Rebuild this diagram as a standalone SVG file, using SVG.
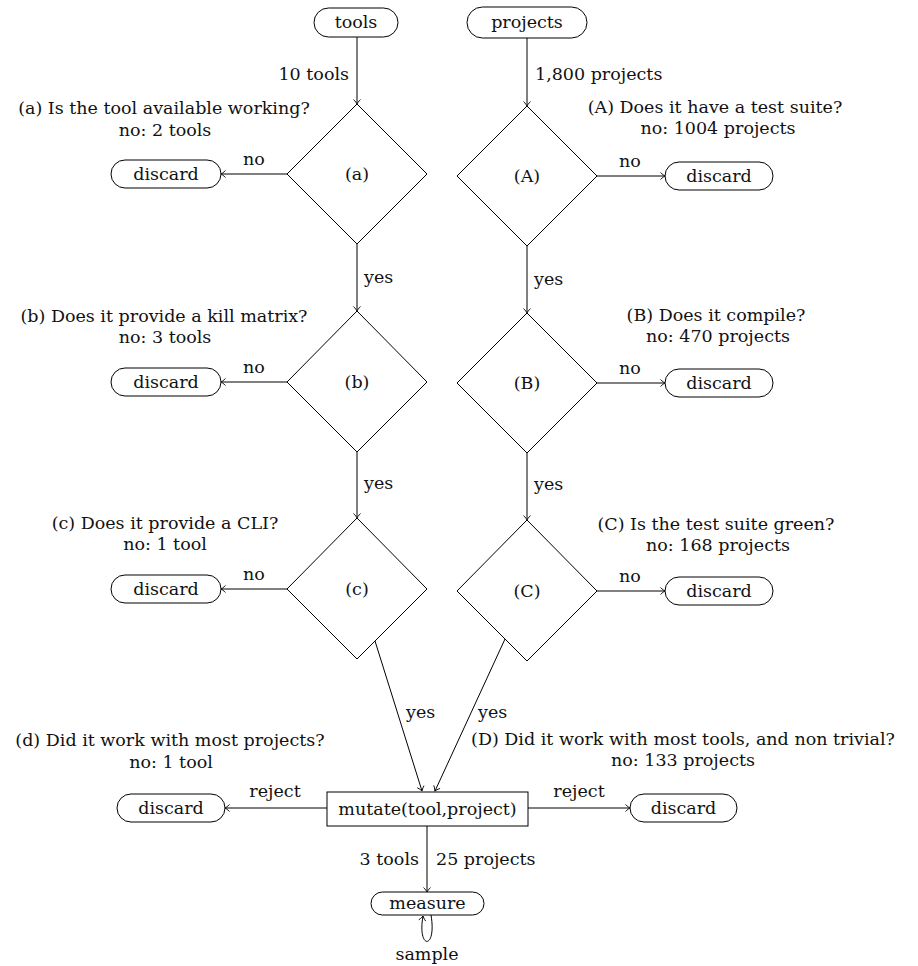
<svg xmlns="http://www.w3.org/2000/svg" width="918" height="966" viewBox="0 0 918 966">
<style>
text{font-family:"DejaVu Serif","Liberation Serif",serif;font-size:17.5px;fill:#111}
.m{text-anchor:middle}
.s{text-anchor:start}
.e{text-anchor:end}
.n{fill:#fff;stroke:#000;stroke-width:1}
.c{fill:none;stroke:#000;stroke-width:1;marker-end:url(#ah)}
</style>
<defs>
<marker id="ah" viewBox="-6 -5 7 10" markerWidth="7" markerHeight="10" refX="0" refY="0" orient="auto" markerUnits="userSpaceOnUse">
<path d="M -4.5 -3.5 C -2.5 -1.5 -0.8 -0.4 0 0 C -0.8 0.4 -2.5 1.5 -4.5 3.5" fill="none" stroke="#000" stroke-width="0.9"/>
</marker>
</defs>
<rect width="918" height="966" fill="#fff"/>

<g id="connectors">
<path class="c" d="M357 37 V104"/>
<path class="c" d="M527 38 V106"/>
<path class="c" d="M287 174 H221"/>
<path class="c" d="M597 176 H665"/>
<path class="c" d="M357 244 V311"/>
<path class="c" d="M527 246 V313"/>
<path class="c" d="M287 382 H221"/>
<path class="c" d="M597 383 H665"/>
<path class="c" d="M357 452 V518"/>
<path class="c" d="M527 453 V520"/>
<path class="c" d="M287 589 H221"/>
<path class="c" d="M597 591 H665"/>
<path class="c" d="M375 641 L422 791"/>
<path class="c" d="M505 639 L435 791"/>
<path class="c" d="M327 808 H225"/>
<path class="c" d="M528 808 H630"/>
<path class="c" d="M427 826 V892"/>
<path class="c" d="M431 915 C 437 950, 417 950, 423 916"/>
</g>

<g id="labels">
<text class="e" x="349" y="80">10 tools</text>
<text class="s" x="535" y="80">1,800 projects</text>
<text class="m" x="164" y="114">(a) Is the tool available working?</text>
<text class="m" x="165" y="136">no: 2 tools</text>
<text class="m" x="715" y="113">(A) Does it have a test suite?</text>
<text class="m" x="718" y="134">no: 1004 projects</text>
<text class="m" x="254" y="165">no</text>
<text class="m" x="630" y="167">no</text>
<text class="s" x="364" y="283">yes</text>
<text class="s" x="534" y="285">yes</text>
<text class="m" x="164" y="322">(b) Does it provide a kill matrix?</text>
<text class="m" x="165" y="343">no: 3 tools</text>
<text class="m" x="716" y="321">(B) Does it compile?</text>
<text class="m" x="718" y="342">no: 470 projects</text>
<text class="m" x="254" y="373">no</text>
<text class="m" x="630" y="374">no</text>
<text class="s" x="364" y="489">yes</text>
<text class="s" x="534" y="490">yes</text>
<text class="m" x="165" y="529">(c) Does it provide a CLI?</text>
<text class="m" x="165" y="550">no: 1 tool</text>
<text class="m" x="716" y="530">(C) Is the test suite green?</text>
<text class="m" x="718" y="551">no: 168 projects</text>
<text class="m" x="254" y="580">no</text>
<text class="m" x="630" y="582">no</text>
<text class="s" x="406" y="718">yes</text>
<text class="s" x="478" y="718">yes</text>
<text class="m" x="170" y="746">(d) Did it work with most projects?</text>
<text class="m" x="171" y="768">no: 1 tool</text>
<text class="m" x="683" y="745">(D) Did it work with most tools, and non trivial?</text>
<text class="m" x="683" y="766">no: 133 projects</text>
<text class="m" x="275" y="797">reject</text>
<text class="m" x="579" y="797">reject</text>
<text class="e" x="419" y="865">3 tools</text>
<text class="s" x="436" y="865">25 projects</text>
<text class="m" x="427" y="960">sample</text>
</g>

<g id="tools"><rect class="n" x="314" y="8" width="84" height="29" rx="14.5"/><text class="m" x="356" y="28">tools</text></g>
<g id="projects"><rect class="n" x="467" y="7" width="120" height="31" rx="15.5"/><text class="m" x="527" y="28">projects</text></g>

<g id="dec-a"><path class="n" d="M357 104 L427 174 L357 244 L287 174 Z"/><text class="m" x="357" y="180">(a)</text></g>
<g id="dec-A"><path class="n" d="M527 106 L597 176 L527 246 L457 176 Z"/><text class="m" x="527" y="182">(A)</text></g>
<g id="dec-b"><path class="n" d="M357 311 L427 382 L357 452 L287 382 Z"/><text class="m" x="357" y="388">(b)</text></g>
<g id="dec-B"><path class="n" d="M527 313 L597 383 L527 453 L457 383 Z"/><text class="m" x="527" y="389">(B)</text></g>
<g id="dec-c"><path class="n" d="M357 518 L427 589 L357 659 L287 589 Z"/><text class="m" x="357" y="595">(c)</text></g>
<g id="dec-C"><path class="n" d="M527 520 L597 591 L527 661 L457 591 Z"/><text class="m" x="527" y="597">(C)</text></g>

<g id="discard-a"><rect class="n" x="111" y="160" width="110" height="28" rx="14"/><text class="m" x="166" y="180">discard</text></g>
<g id="discard-A"><rect class="n" x="665" y="162" width="108" height="28" rx="14"/><text class="m" x="719" y="182">discard</text></g>
<g id="discard-b"><rect class="n" x="111" y="368" width="110" height="28" rx="14"/><text class="m" x="166" y="388">discard</text></g>
<g id="discard-B"><rect class="n" x="665" y="369" width="108" height="28" rx="14"/><text class="m" x="719" y="389">discard</text></g>
<g id="discard-c"><rect class="n" x="111" y="575" width="110" height="28" rx="14"/><text class="m" x="166" y="595">discard</text></g>
<g id="discard-C"><rect class="n" x="665" y="577" width="108" height="28" rx="14"/><text class="m" x="719" y="597">discard</text></g>

<g id="mutate"><rect class="n" x="327" y="792" width="201" height="34"/><text class="m" x="427.5" y="815">mutate(tool,project)</text></g>
<g id="discard-d"><rect class="n" x="117" y="794" width="108" height="28" rx="14"/><text class="m" x="171" y="814">discard</text></g>
<g id="discard-D"><rect class="n" x="630" y="794" width="107" height="28" rx="14"/><text class="m" x="683.5" y="814">discard</text></g>
<g id="measure"><rect class="n" x="371" y="892" width="113" height="23" rx="11.5"/><text class="m" x="427.5" y="909">measure</text></g>
</svg>
